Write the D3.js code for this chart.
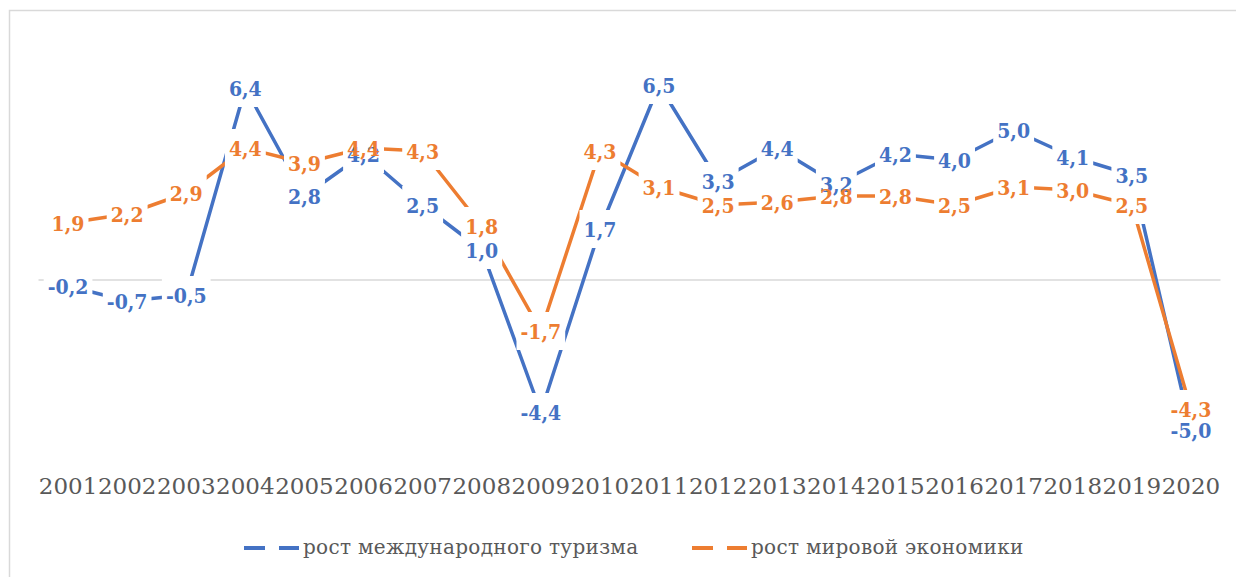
<!DOCTYPE html>
<html>
<head>
<meta charset="utf-8">
<script src="https://cdn.jsdelivr.net/npm/d3@7"></script>
<style>
  body { margin: 0; background: #fff; }
  svg { display: block; }
</style>
</head>
<body>
<div id="chart"></div>
<script>
const years = ['2001','2002','2003','2004','2005','2006','2007','2008','2009','2010',
               '2011','2012','2013','2014','2015','2016','2017','2018','2019','2020'];
const tourism = [-0.2, -0.7, -0.5, 6.4, 2.8, 4.2, 2.5, 1.0, -4.4, 1.7,
                 6.5, 3.3, 4.4, 3.2, 4.2, 4.0, 5.0, 4.1, 3.5, -5.0];
const economy = [1.9, 2.2, 2.9, 4.4, 3.9, 4.4, 4.3, 1.8, -1.7, 4.3,
                 3.1, 2.5, 2.6, 2.8, 2.8, 2.5, 3.1, 3.0, 2.5, -4.3];
const seriesNames = ['рост международного туризма', 'рост мировой экономики'];
const colors = ['#4472C4', '#ED7D31'];

const width = 1236, height = 577;

const svg = d3.select('#chart').append('svg')
  .attr('width', width)
  .attr('height', height);

// chart frame (runs off the right and bottom edges)
svg.append('rect')
  .attr('x', 9.5).attr('y', 10.5)
  .attr('width', 1300).attr('height', 700)
  .attr('fill', 'none')
  .attr('stroke', '#D9D9D9')
  .attr('stroke-width', 1.5);

const x = d3.scaleBand().domain(years).range([38.5, 1220.5]);
const cx = d => x(d) + x.bandwidth() / 2;
const y = d3.scaleLinear().domain([-6, 8]).range([460, 40]);

// zero line
svg.append('line')
  .attr('x1', 38.5).attr('x2', 1220.5)
  .attr('y1', y(0)).attr('y2', y(0))
  .attr('stroke', '#D9D9D9')
  .attr('stroke-width', 1.5);

// year labels
const xAxis = d3.axisBottom(x).tickSize(0).tickPadding(0);
const gx = svg.append('g')
  .attr('transform', 'translate(0,478)')
  .call(xAxis);
gx.select('.domain').remove();
gx.selectAll('text')
  .attr('dy', '0.71em')
  .attr('fill', '#595959')
  .style('font-family', '"DejaVu Serif", serif')
  .style('font-size', '23px');

const line = d3.line()
  .x((d, i) => cx(years[i]))
  .y(d => y(d));

[tourism, economy].forEach((vals, k) => {
  svg.append('path')
    .datum(vals)
    .attr('d', line)
    .attr('fill', 'none')
    .attr('stroke', colors[k])
    .attr('stroke-width', 3.5)
    .attr('stroke-linejoin', 'round');
});

// data labels: white boxes cut the lines, texts may overlap each other
const boxLayer = svg.append('g');
const textLayer = svg.append('g');
[tourism, economy].forEach((vals, k) => {
  vals.forEach((v, i) => {
    const px = cx(years[i]), py = y(v);
    const t = textLayer.append('text')
      .attr('x', px).attr('y', py)
      .attr('text-anchor', 'middle')
      .attr('dy', '0.36em')
      .attr('fill', colors[k])
      .style('font-family', '"DejaVu Serif", serif')
      .style('font-stretch', 'semi-condensed')
      .style('font-weight', 'bold')
      .style('font-size', '21px')
      .text(v.toFixed(1).replace('.', ','));
    const w = t.node().getComputedTextLength();
    boxLayer.append('rect')
      .attr('x', px - w / 2 - 4).attr('y', py - 19)
      .attr('width', w + 8).attr('height', 38)
      .attr('fill', '#fff');
  });
});

// legend
const legendX = [244, 692];
seriesNames.forEach((name, k) => {
  const g = svg.append('g').attr('transform', `translate(${legendX[k]},548)`);
  g.append('line')
    .attr('x1', 0).attr('x2', 55)
    .attr('stroke', colors[k])
    .attr('stroke-width', 4)
    .attr('stroke-dasharray', '21 14');
  g.append('text')
    .attr('x', 59)
    .attr('dy', '0.32em')
    .attr('fill', '#595959')
    .style('font-family', '"DejaVu Serif", serif')
    .style('font-size', '20px')
    .style('letter-spacing', '0.3px')
    .text(name);
});
</script>
</body>
</html>
